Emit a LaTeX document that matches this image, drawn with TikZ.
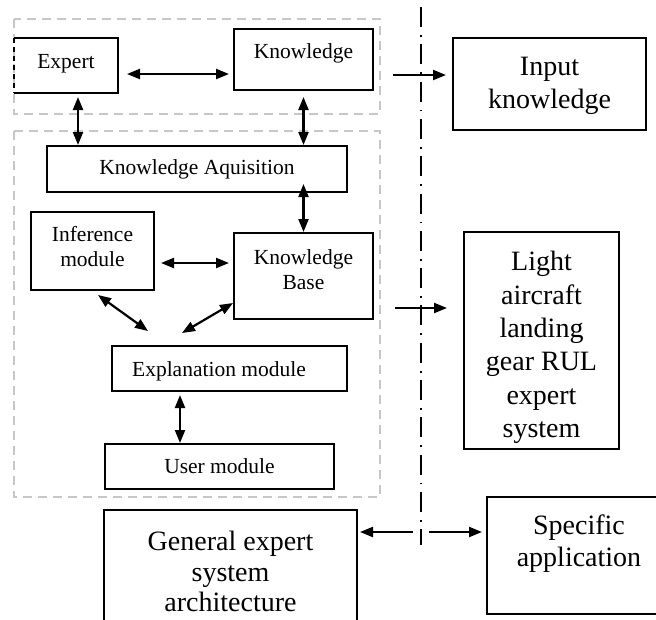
\documentclass[tikz,border=0pt]{standalone}
\usepackage{fontspec}
\setmainfont{Liberation Serif}
\usetikzlibrary{arrows.meta,calc}
\newcommand\ml[1]{\begin{tabular}{@{}c@{}}#1\end{tabular}}
\newcommand\tup[2]{\raisebox{0pt}[\height][\dimexpr\depth+#1\relax]{#2}}
\newcommand\tdown[2]{\raisebox{0pt}[\dimexpr\height+#1\relax][\depth]{#2}}
\tikzset{
  box/.style={draw, line width=1.3pt, inner sep=0pt, outer sep=0pt, font=\fontsize{21.5}{25.5}\selectfont},
  bigbox/.style={box, font=\fontsize{28}{32.5}\selectfont},
  arr/.style={line width=2.2pt, -{Triangle[length=13pt,width=10pt]}},
  dbl/.style={line width=2.2pt, {Triangle[length=13pt,width=10pt]}-{Triangle[length=13pt,width=10pt]}},
  gdash/.style={draw=black!22, line width=1.6pt, dash pattern=on 9pt off 6pt},
  dashdot/.style={line width=2.2pt, dash pattern=on 20pt off 8pt on 1.8pt off 7.5pt}
}
\begin{document}
\begin{tikzpicture}[x=1pt,y=-1pt]
\useasboundingbox (0,0) rectangle (656,619);
\clip (0,0) rectangle (656,619);
\fill[white] (0,0) rectangle (656,619);
% dashed grey frames
\draw[gdash] (14,19) rectangle (380,114);
\draw[gdash] (14,131) rectangle (380,497);
% boxes
\node[box, draw=none, minimum width=104pt, minimum height=55pt, text depth=9pt] (expert) at (66,65.5) {Expert};
\draw[line width=1.3pt] (expert.south west) -- (expert.south east) -- (expert.north east) -- (expert.north west);
\draw[line width=1.3pt, dash pattern=on 5pt off 4pt] (expert.north west) -- (expert.south west);
\node[box, minimum width=139pt, minimum height=61pt, text depth=16pt] (know) at (303.5,59.5) {Knowledge};
\node[box, minimum width=300pt, minimum height=46pt] (ka) at (197,169) {Knowledge Aquisition};
\node[box, minimum width=123pt, minimum height=78pt] (inf) at (92.5,251) {\tup{4pt}{\ml{Inference\\module}}};
\node[box, minimum width=139pt, minimum height=86pt] (kb) at (303.5,276) {\tup{8pt}{\ml{Knowledge\\Base}}};
\node[box, minimum width=235pt, minimum height=45pt, text height=20.7pt] (expl) at (229.5,368.5) {Explanation module\hspace*{21pt}};
\node[box, minimum width=229pt, minimum height=45pt] (user) at (219.5,466.5) {User module};
\node[bigbox, minimum width=193pt, minimum height=92pt] (input) at (549.5,84) {\tdown{3pt}{\ml{Input\\knowledge}}};
\node[bigbox, font=\fontsize{28}{33.3}\selectfont, minimum width=155pt, minimum height=217pt] (light) at (541.5,340.5) {\tdown{14pt}{\ml{Light\\aircraft\\landing\\gear RUL\\expert\\system}}};
\node[bigbox, font=\fontsize{28}{30.5}\selectfont, minimum width=253pt, minimum height=130pt] (general) at (230.5,575) {\ml{General expert\\system\\architecture}};
\node[bigbox, minimum width=184pt, minimum height=117pt] (specific) at (579,555.5) {\tup{23pt}{\ml{Specific\\application}}};
% dash-dot divider
\coordinate (dd1) at (421,7);
\coordinate (dd2) at (421,545);
\draw[dashdot] (dd1) -- (dd2);
% connectors
\coordinate (r1) at (0,74);
\draw[dbl, shorten <=9pt, shorten >=5pt] (expert.east |- r1) -- (know.west |- r1);
\coordinate (c1) at (78,0);
\draw[dbl, shorten <=4pt, shorten >=1pt] (c1 |- expert.south) -- (c1 |- ka.north);
\draw[dbl, shorten <=7pt, shorten >=1pt] (know.south) -- (know.south |- ka.north);
\draw[dbl, shorten <=-8pt, shorten >=1pt] (kb.north |- ka.south) -- (kb.north);
\coordinate (r2) at (0,263);
\draw[dbl, shorten <=7pt, shorten >=5pt] (inf.east |- r2) -- (kb.west |- r2);
\draw[dbl] ($(inf.south)+(5.5,5)$) -- ($(expl.north)+(-81.5,-15)$);
\draw[dbl] ($(kb.south west)+(-1,-16)$) -- ($(expl.north)+(-47.5,-13)$);
\coordinate (c2) at (180,0);
\draw[dbl, shorten <=4pt, shorten >=1pt] (c2 |- expl.south) -- (c2 |- user.north);
\coordinate (a1) at (393,75);
\draw[arr, shorten >=7pt] (a1) -- (a1 -| input.west);
\coordinate (a2) at (395,308);
\draw[arr, shorten >=17pt] (a2) -- (a2 -| light.west);
\coordinate (b1) at (413,532);
\draw[arr, shorten >=3pt] (b1) -- (b1 -| general.east);
\coordinate (b2) at (429,532);
\draw[arr, shorten >=5pt] (b2) -- (b2 -| specific.west);
\end{tikzpicture}
\end{document}
